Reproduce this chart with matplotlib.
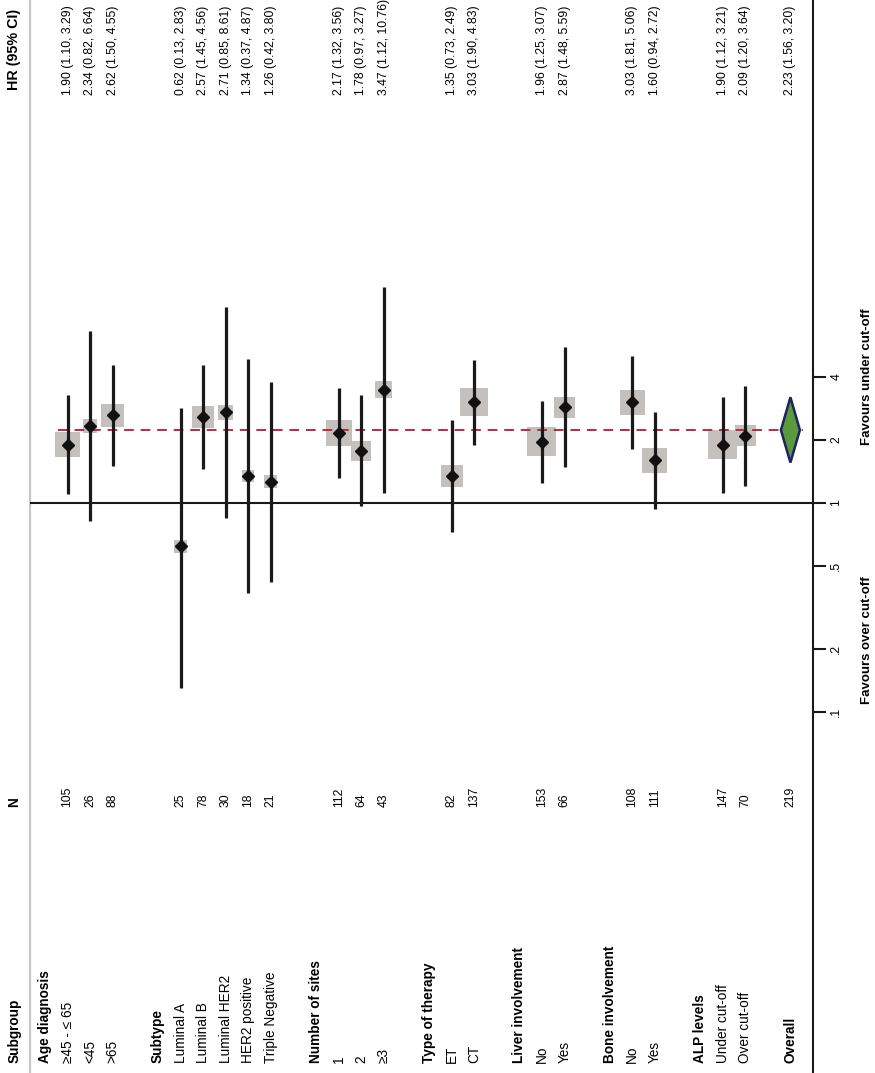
import matplotlib.pyplot as plt

# datos del forest plot (rotado 90 grados)
groups = ["Age diagnosis", "Subtype", "Number of sites", "Type of therapy",
          "Liver involvement", "Bone involvement", "ALP levels"]
subgroups = ["≥45 - ≤ 65", "<45", ">65",
             "Luminal A", "Luminal B", "Luminal HER2", "HER2 positive", "Triple Negative",
             "1", "2", "≥3",
             "ET", "CT",
             "No", "Yes",
             "No", "Yes",
             "Under cut-off", "Over cut-off"]
group_of = [0, 0, 0, 1, 1, 1, 1, 1, 2, 2, 2, 3, 3, 4, 4, 5, 5, 6, 6]
n = [105, 26, 88, 25, 78, 30, 18, 21, 112, 64, 43, 82, 137, 153, 66, 108, 111, 147, 70]
hr = [1.90, 2.34, 2.62, 0.62, 2.57, 2.71, 1.34, 1.26, 2.17, 1.78, 3.47,
      1.35, 3.03, 1.96, 2.87, 3.03, 1.60, 1.90, 2.09]
lo = [1.10, 0.82, 1.50, 0.13, 1.45, 0.85, 0.37, 0.42, 1.32, 0.97, 1.12,
      0.73, 1.90, 1.25, 1.48, 1.81, 0.94, 1.12, 1.20]
hi = [3.29, 6.64, 4.55, 2.83, 4.56, 8.61, 4.87, 3.80, 3.56, 3.27, 10.76,
      2.49, 4.83, 3.07, 5.59, 5.06, 2.72, 3.21, 3.64]
box_px = [25, 14, 23, 13, 22, 15, 12, 13, 26, 20, 17, 22, 28, 29, 21, 25, 25, 29, 21]

overall_n = 219
overall_hr, overall_lo, overall_hi = 2.23, 1.56, 3.20

ticks = [0.1, 0.2, 0.5, 1, 2, 4]
tick_labels = [".1", ".2", ".5", "1", "2", "4"]

plt.rcParams['font.family'] = ['Liberation Sans', 'DejaVu Sans']
FS_LAB = 9.8   # etiquetas de subgrupo
FS_NUM = 8.8   # columnas N y HR

fig = plt.figure(figsize=(8.75, 10.73), dpi=100)
ax = fig.add_axes([0, 0, 813 / 875, 1])
ax.set_yscale('log')
ax.set_xlim(-1.993, 34.0)
ax.set_ylim(0.00189, 253)

# posiciones de filas
rows_x = []
header_x = []
r = 0
prev = -1
for g in group_of:
    if g != prev:
        if prev != -1:
            r += 1
        header_x.append(r)
        r += 1
        prev = g
    rows_x.append(r)
    r += 1
overall_x = r + 1

tx = ax.get_xaxis_transform()
y_lab, y_n, y_hr = 0.0093, 0.248, 0.9115

# encabezados
ax.text(-1.37, y_lab, "Subgroup", transform=tx, rotation=90, ha='center', va='bottom',
        fontsize=FS_LAB, fontweight='bold')
ax.text(-1.37, y_n, "N", transform=tx, rotation=90, ha='center', va='bottom',
        fontsize=FS_LAB, fontweight='bold')
ax.text(-1.37, 0.916, "HR (95% CI)", transform=tx, rotation=90, ha='center', va='bottom',
        fontsize=10.3, fontweight='bold')

for gx, name in zip(header_x, groups):
    ax.text(gx, y_lab, name, transform=tx, rotation=90, ha='center', va='bottom',
            fontsize=FS_LAB, fontweight='bold')

for i, x in enumerate(rows_x):
    ax.text(x, y_lab, subgroups[i], transform=tx, rotation=90, ha='center', va='bottom', fontsize=FS_LAB)
    ax.text(x, y_n, str(n[i]), transform=tx, rotation=90, ha='center', va='bottom', fontsize=FS_NUM)
    ax.text(x, y_hr, f"{hr[i]:.2f} ({lo[i]:.2f}, {hi[i]:.2f})", transform=tx, rotation=90,
            ha='center', va='bottom', fontsize=FS_NUM)

ax.text(overall_x, y_lab, "Overall", transform=tx, rotation=90, ha='center', va='bottom',
        fontsize=FS_LAB, fontweight='bold')
ax.text(overall_x, y_n, str(overall_n), transform=tx, rotation=90, ha='center', va='bottom',
        fontsize=FS_NUM)
ax.text(overall_x, y_hr, f"{overall_hr:.2f} ({overall_lo:.2f}, {overall_hi:.2f})", transform=tx,
        rotation=90, ha='center', va='bottom', fontsize=FS_NUM)

# lineas de referencia
ax.axvline(-0.664, color='#c9c6c3', lw=1.6, zorder=1)
ax.hlines(1, -0.664, 34.0, color='#1a1a1a', lw=1.5, zorder=2)
ax.hlines(overall_hr, 0.58, 33.57, color='#c0283c', lw=1.4, linestyles=(0, (5, 3.5)), zorder=4)

# cajas, IC y puntos
ax.scatter(rows_x, hr, marker='s', s=[(p * 0.72) ** 2 for p in box_px], color='#c3c0bd',
           linewidths=0, zorder=3)
ax.vlines(rows_x, lo, hi, color='#1a1a1a', lw=2.3, zorder=5)
ax.plot(rows_x, hr, 'D', color='#111111', ms=6.5, zorder=6)

# diamante global
dw = 0.42
ax.fill([overall_x - dw, overall_x, overall_x + dw, overall_x],
        [overall_hr, overall_hi, overall_hr, overall_lo],
        facecolor='#5a9a3a', edgecolor='#1f2263', lw=1.8, zorder=6)

# eje
for s in ['top', 'left', 'bottom']:
    ax.spines[s].set_visible(False)
ax.spines['right'].set_linewidth(1.5)
ax.spines['right'].set_color('#1a1a1a')
ax.set_xticks([])
ax.yaxis.set_ticks_position('right')
ax.set_yticks(ticks)
ax.set_yticklabels(tick_labels, rotation=90, va='center', fontsize=FS_NUM)
ax.minorticks_off()
ax.tick_params(axis='y', length=9.5, width=1.5, color='#1a1a1a', pad=3)

ax.text(36.4, 4, "Favours under cut-off", rotation=90, ha='center', va='center',
        fontsize=9.5, fontweight='bold', clip_on=False)
ax.text(36.4, 0.22, "Favours over cut-off", rotation=90, ha='center', va='center',
        fontsize=9.5, fontweight='bold', clip_on=False)

plt.savefig("out.png", dpi=100)
